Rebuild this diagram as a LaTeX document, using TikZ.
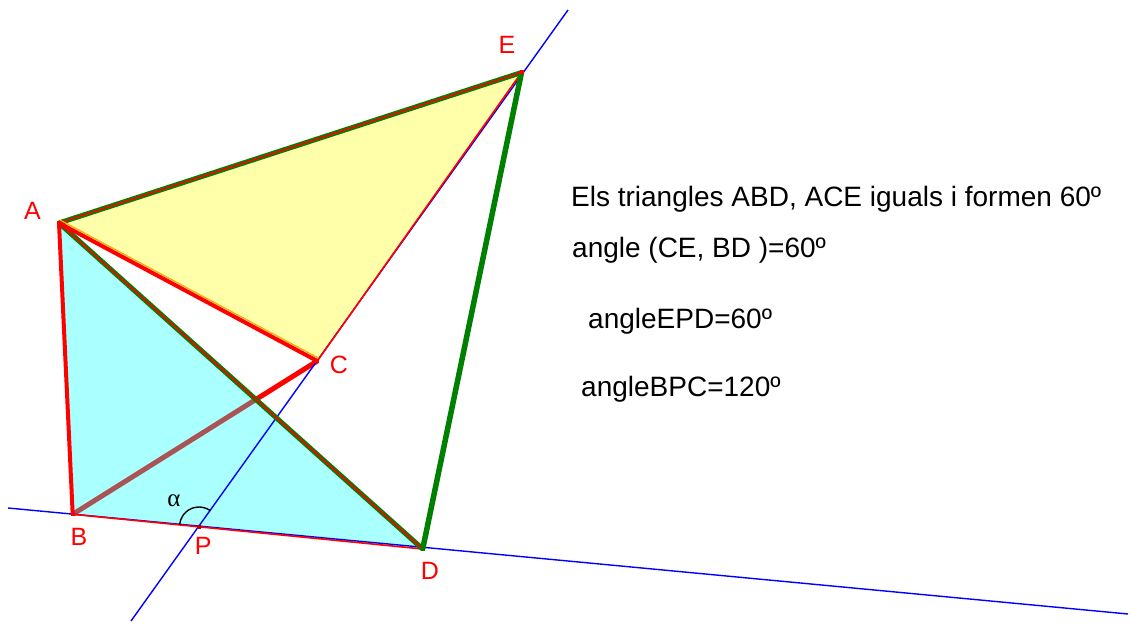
\documentclass[tikz,border=0pt]{standalone}
\usepackage{fontspec}
\setmainfont{Liberation Sans}
\newfontfamily\greekserif{Liberation Serif}
\usetikzlibrary{calc}
\definecolor{cyanfill}{RGB}{0,255,255}
\definecolor{yelfill}{RGB}{255,255,170}
\definecolor{dgreen}{RGB}{0,128,0}
\definecolor{lblue}{RGB}{0,0,255}
\definecolor{edgeorange}{RGB}{255,170,0}
\begin{document}
\begin{tikzpicture}[x=1pt,y=-1pt,
  lbl/.style={text=red,font=\fontsize{25}{25}\selectfont,inner sep=0pt},
  txt/.style={anchor=base west,font=\fontsize{28}{28}\selectfont,inner sep=0pt},
  blueline/.style={draw=lblue,line width=1.4pt},
  thinred/.style={draw=red,line width=1.6pt},
  thickred/.style={draw=red,line width=4pt},
  greenedge/.style={draw=dgreen,line width=5pt},
  vdot/.style={fill=red,inner sep=0pt,minimum size=4pt}]
\useasboundingbox (0,0) rectangle (1131,623);
\fill[white] (0,0) rectangle (1131,623);
% points
\coordinate (A) at (59,223);
\coordinate (B) at (72.7,514.3);
\coordinate (C) at (317.3,361);
\coordinate (D) at (422.7,549);
\coordinate (E) at (521.5,72.5);
\coordinate (P) at (199,526.5);
\coordinate (L1) at (8,508);
\coordinate (L2) at (1128,614);
\coordinate (M1) at (131,621);
\coordinate (M2) at (568,10);
% triangle ACE
\fill[yelfill] (A) -- (C) -- (E) -- cycle;
% segment BC (under cyan fill)
\draw[red,line width=5pt] (B) -- (C);
% triangle ABD
\fill[cyanfill,fill opacity=0.333] (A) -- (B) -- (D) -- cycle;
% lines
\draw[blueline] (L1) -- (L2);
\draw[blueline] (M1) -- (M2);
\draw[thinred] (B) -- (D);
\draw[thinred] (C) -- (E);
% green edges
\draw[greenedge] (A) -- (E);
\draw[greenedge] (A) -- (D);
\draw[dgreen,line width=5.5pt] (D) -- (E);
\draw[thinred] (A) -- (E);
\draw[thinred] (A) -- (D);
% AC and AB
\draw[edgeorange,line width=1.2pt] ($(A)+(1,-3)$) -- ($(C)+(1,-3)$);
\draw[thickred] (A) -- (C);
\draw[thickred] (A) -- (B);
% angle alpha
\draw[black,line width=1.4pt] ($(P)!19.5pt!(E)$) arc[start angle=54.6, end angle=174.6, radius=19.5pt];
\node[inner sep=0pt,font=\greekserif\fontsize{25}{25}\selectfont] (alpha) at (174,501) {α};
% vertex dots
\node[vdot] (dA) at (A) {};
\node[vdot] (dB) at (B) {};
\node[vdot] (dC) at (C) {};
\node[vdot,fill=dgreen] (dD) at (D) {};
\node[vdot] (dE) at (E) {};
\node[vdot,fill=red!70!black] (dP) at (P) {};
% labels
\node[lbl] (lA) at (32.4,210.5) {A};
\node[lbl] (lB) at (79,537) {B};
\node[lbl] (lC) at (339,365) {C};
\node[lbl] (lD) at (430,571) {D};
\node[lbl] (lE) at (507,45) {E};
\node[lbl] (lP) at (203.3,545.5) {P};
% texts
\node[txt] (t1) at (571,206.7) {Els triangles ABD, ACE iguals i formen 60º};
\node[txt] (t2) at (572,257.5) {angle (CE, BD )=60º};
\node[txt] (t3) at (588,328.5) {angleEPD=60º};
\node[txt] (t4) at (581,396.5) {angleBPC=120º};
\end{tikzpicture}
\end{document}
